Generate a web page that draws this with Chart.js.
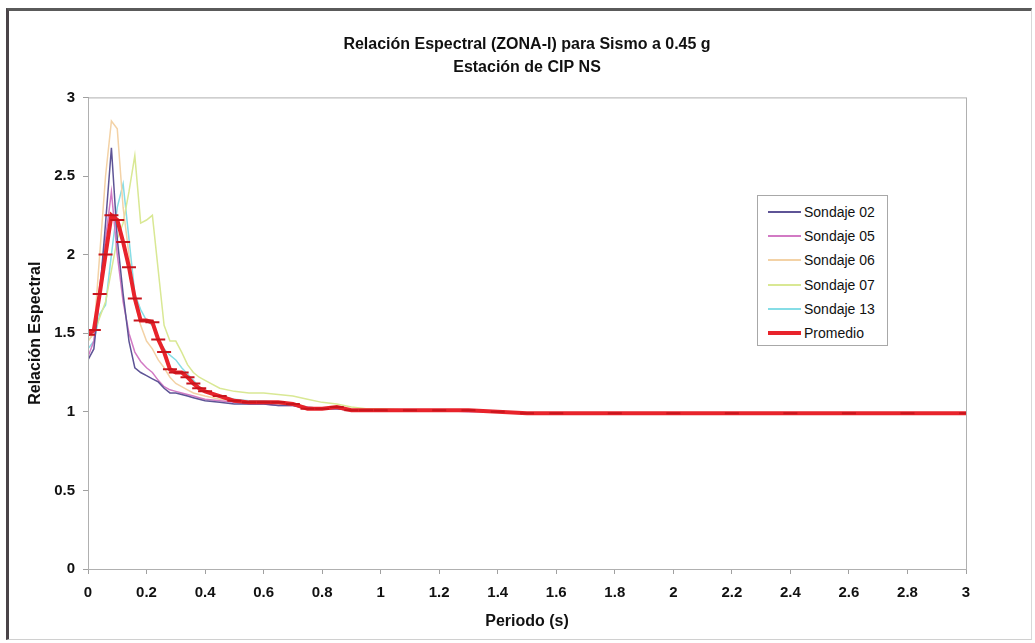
<!DOCTYPE html>
<html>
<head>
<meta charset="utf-8">
<script src="https://cdn.jsdelivr.net/npm/chart.js@4.4.1/dist/chart.umd.min.js"></script>
<style>
    html, body { margin: 0; padding: 0; background: #fff; }
    #wrap { position: relative; width: 1035px; height: 643px; }
    #frame {
        position: absolute; left: 6px; top: 8px; width: 1022px; height: 628px;
        border-left: 3px solid #4a4448; border-top: 3px solid #5a5a5a;
        border-right: 1px solid #d8d8d8; border-bottom: 1px solid #d0d0d0;
        pointer-events: none;
    }
    #grafico { position: absolute; left: 0; top: 0; }
    #leyenda {
        position: absolute; left: 757px; top: 195px; width: 131px; height: 151px;
        border: 1px solid #a8a8a8; background: #fff; box-sizing: border-box;
        font-family: "Liberation Sans", Arial, sans-serif; font-size: 14px; color: #111;
        padding-top: 4px;
    }
    #leyenda .item { display: flex; align-items: center; height: 24.2px; }
    #leyenda .muestra { width: 33px; margin-left: 10px; margin-right: 3px; }
</style>
</head>
<body>
<div id="wrap">
    <canvas id="grafico" width="1035" height="643"></canvas>
    <div id="frame"></div>
    <div id="leyenda"></div>
</div>
<script>
    "use strict";

    /*----------------------------------------*/
    /*  datos
    /*----------------------------------------*/
    const periodos = [0, 0.02, 0.04, 0.06, 0.08, 0.10, 0.12, 0.14, 0.16, 0.18, 0.20, 0.22, 0.24, 0.26, 0.28, 0.30, 0.32, 0.34, 0.36, 0.38, 0.40,
        0.45, 0.50, 0.55, 0.60, 0.65, 0.70, 0.75, 0.80, 0.85, 0.90, 0.95,
        1.0, 1.1, 1.2, 1.3, 1.4, 1.5, 1.6,
        1.8, 2.0, 2.2, 2.4, 2.6, 2.8, 3.0];

    const sondaje02 = [1.33, 1.40, 1.75, 2.20, 2.68, 2.10, 1.75, 1.45, 1.28, 1.25, 1.23, 1.21, 1.19, 1.15, 1.12, 1.12, 1.11, 1.10, 1.09, 1.08, 1.07,
        1.06, 1.05, 1.05, 1.05, 1.04, 1.04, 1.02, 1.02, 1.02, 1.01, 1.01,
        1.01, 1.01, 1.01, 1.01, 1.00, 0.99, 0.99,
        0.99, 0.99, 0.99, 0.99, 0.99, 0.99, 0.99];
    const sondaje05 = [1.35, 1.45, 1.80, 2.10, 2.40, 2.00, 1.70, 1.50, 1.38, 1.32, 1.28, 1.25, 1.20, 1.16, 1.14, 1.13, 1.12, 1.11, 1.10, 1.09, 1.08,
        1.07, 1.06, 1.05, 1.05, 1.04, 1.04, 1.03, 1.02, 1.02, 1.01, 1.01,
        1.01, 1.01, 1.01, 1.00, 1.00, 0.99, 0.99,
        0.99, 0.99, 0.99, 0.99, 0.99, 0.99, 0.99];
    const sondaje06 = [1.45, 1.50, 2.00, 2.50, 2.85, 2.80, 2.30, 2.00, 1.70, 1.55, 1.45, 1.40, 1.33, 1.28, 1.22, 1.18, 1.16, 1.14, 1.12, 1.11, 1.10,
        1.08, 1.07, 1.06, 1.06, 1.05, 1.05, 1.03, 1.02, 1.03, 1.01, 1.01,
        1.01, 1.01, 1.01, 1.01, 1.00, 0.99, 0.99,
        0.99, 0.99, 0.99, 0.99, 0.99, 0.99, 0.99];
    const sondaje07 = [1.45, 1.50, 1.60, 1.70, 1.90, 2.10, 2.20, 2.40, 2.63, 2.20, 2.22, 2.25, 1.90, 1.55, 1.45, 1.45, 1.38, 1.30, 1.25, 1.22, 1.20,
        1.15, 1.13, 1.12, 1.12, 1.11, 1.10, 1.08, 1.06, 1.05, 1.03, 1.02,
        1.02, 1.01, 1.01, 1.01, 1.00, 0.99, 0.99,
        0.99, 0.99, 0.99, 0.99, 0.99, 0.99, 0.99];
    const sondaje13 = [1.40, 1.45, 1.62, 1.68, 2.00, 2.30, 2.45, 2.10, 1.75, 1.65, 1.58, 1.55, 1.46, 1.40, 1.36, 1.33, 1.28, 1.24, 1.20, 1.16, 1.13,
        1.10, 1.08, 1.07, 1.07, 1.06, 1.05, 1.03, 1.02, 1.02, 1.01, 1.01,
        1.01, 1.01, 1.01, 1.01, 1.00, 0.99, 0.99,
        0.99, 0.99, 0.99, 0.99, 0.99, 0.99, 0.99];
    const promedio = [1.49, 1.52, 1.75, 2.00, 2.25, 2.22, 2.08, 1.92, 1.72, 1.58, 1.58, 1.57, 1.46, 1.38, 1.27, 1.25, 1.25, 1.22, 1.18, 1.15, 1.13,
        1.10, 1.07, 1.06, 1.06, 1.06, 1.05, 1.02, 1.02, 1.03, 1.01, 1.01,
        1.01, 1.01, 1.01, 1.01, 1.00, 0.99, 0.99,
        0.99, 0.99, 0.99, 0.99, 0.99, 0.99, 0.99];

    const titulo = ["Relación Espectral (ZONA-I) para Sismo a 0.45 g", "Estación de CIP NS"];

    const fuente = '"Liberation Sans", Arial, sans-serif';

    function puntos(valores) {
        return periodos.map((p, i) => ({ x: p, y: valores[i] }));
    }

    function serie(nombre, valores, color) {
        return {
            label: nombre,
            data: puntos(valores),
            borderColor: color,
            backgroundColor: color,
            borderWidth: 1.5,
            pointRadius: 0,
            tension: 0,
            order: 1
        };
    }

    // borde del area de trazado
    const bordeArea = {
        id: 'bordeArea',
        afterDraw(chart) {
            const a = chart.chartArea;
            const ctx = chart.ctx;
            ctx.save();
            ctx.strokeStyle = '#b0b0b0';
            ctx.lineWidth = 1;
            ctx.strokeRect(a.left + 0.5, a.top + 0.5, a.right - a.left, a.bottom - a.top);
            ctx.restore();
        }
    };

    let grafico = document.getElementById("grafico");
    const chart = new Chart(grafico, {
        type: 'line',
        data: {
            datasets: [
                serie('Sondaje 02', sondaje02, '#5e5496'),
                serie('Sondaje 05', sondaje05, '#d27ac4'),
                serie('Sondaje 06', sondaje06, '#f3d2a6'),
                serie('Sondaje 07', sondaje07, '#d9e894'),
                serie('Sondaje 13', sondaje13, '#86dde6'),
                {
                    label: 'Promedio',
                    data: puntos(promedio),
                    borderColor: '#e8232b',
                    backgroundColor: '#e8232b',
                    borderWidth: 4,
                    pointStyle: 'line',
                    pointRadius: 7,
                    pointBorderWidth: 2,
                    pointBorderColor: '#c8141c',
                    tension: 0,
                    order: 0
                }
            ]
        },
        options: {
            responsive: false,
            animation: false,
            layout: { padding: { left: 26, right: 69, top: 27, bottom: 8 } },
            plugins: {
                legend: { display: false },
                tooltip: { enabled: false },
                title: {
                    display: true,
                    fullSize: false,
                    text: titulo,
                    color: '#111',
                    font: { family: fuente, size: 16, weight: 'bold', lineHeight: 1.45 },
                    padding: { top: 6, bottom: 18 }
                }
            },
            scales: {
                x: {
                    type: 'linear',
                    min: 0, max: 3,
                    ticks: {
                        stepSize: 0.2,
                        color: '#111',
                        font: { family: fuente, size: 15, weight: 'bold' },
                        padding: 10,
                        maxRotation: 0,
                        callback: v => String(Number(v.toFixed(1)))
                    },
                    grid: { drawOnChartArea: false, tickLength: 5, color: '#a0a0a0' },
                    border: { color: '#a0a0a0' },
                    title: {
                        display: true, text: 'Periodo (s)', color: '#111',
                        font: { family: fuente, size: 16, weight: 'bold' },
                        padding: { top: 2 }
                    },
                    afterFit: s => { s.height = 66; }
                },
                y: {
                    min: 0, max: 3,
                    ticks: {
                        stepSize: 0.5,
                        color: '#111',
                        font: { family: fuente, size: 15, weight: 'bold' },
                        padding: 8,
                        callback: v => String(Number(v.toFixed(1)))
                    },
                    grid: { drawOnChartArea: false, tickLength: 5, color: '#a0a0a0' },
                    border: { color: '#a0a0a0' },
                    title: {
                        display: true, text: 'Relación Espectral', color: '#111',
                        font: { family: fuente, size: 16, weight: 'bold' },
                        padding: { top: 0, bottom: 0 }
                    },
                    afterFit: s => { s.width = 62; }
                }
            }
        },
        plugins: [bordeArea]
    });

    // leyenda en html
    const leyenda = document.getElementById("leyenda");
    chart.data.datasets.forEach(ds => {
        const fila = document.createElement('div');
        fila.className = 'item';
        const m = document.createElement('span');
        m.className = 'muestra';
        m.style.borderTop = (ds.label === 'Promedio' ? 4 : 2) + 'px solid ' + ds.borderColor;
        const t = document.createElement('span');
        t.textContent = ds.label;
        fila.appendChild(m);
        fila.appendChild(t);
        leyenda.appendChild(fila);
    });
</script>
</body>
</html>
